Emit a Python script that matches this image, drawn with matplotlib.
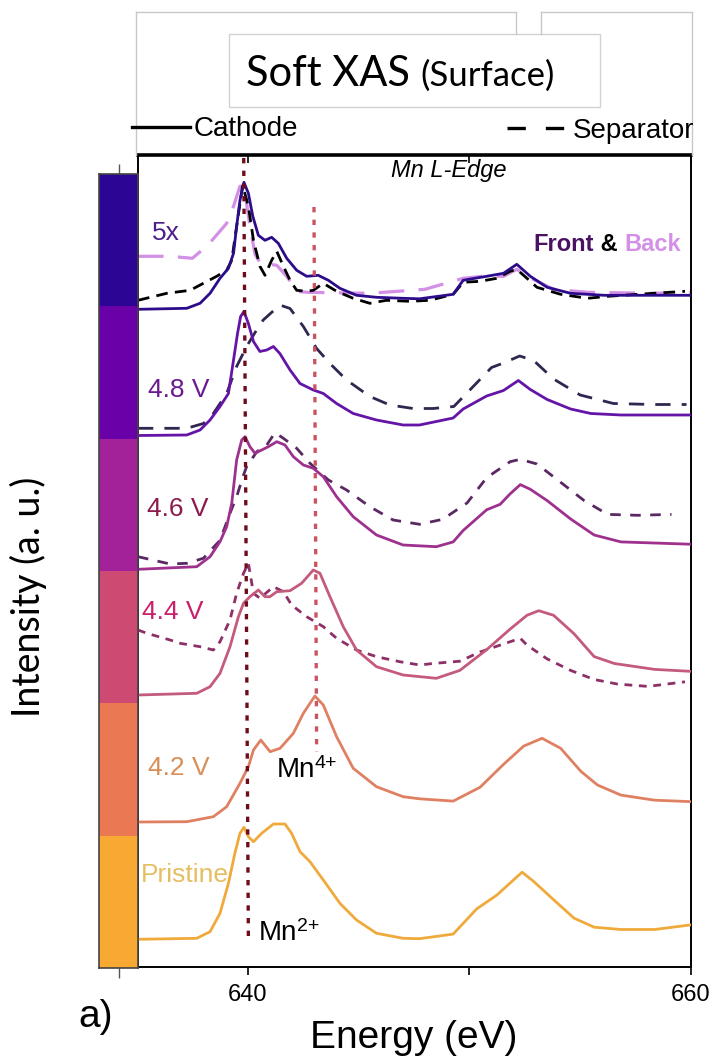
import matplotlib
matplotlib.use("Agg")
import matplotlib.pyplot as plt
from matplotlib.lines import Line2D
from matplotlib.patches import Rectangle

W, H = 712, 1063

# Mn L-edge soft XAS: energy (eV) and intensity above each trace's own baseline (a.u.)
E_pri = [635.05, 637.7, 638.3, 638.75, 639.13, 639.42, 639.65, 639.83, 640.03, 640.26, 640.63, 641.16,
         641.68, 641.98, 642.36, 642.81, 643.41, 644.16, 644.91, 645.81, 647.01, 647.75, 649.27, 650.33,
         651.24, 651.69, 652.38, 652.9, 653.8, 654.72, 655.63, 656.84, 658.36, 659.95]
I_pri = [0.0, 0.01, 0.076, 0.26, 0.56, 0.86, 1.06, 1.12, 1.026, 0.976, 1.06, 1.153,
         1.153, 1.06, 0.876, 0.776, 0.593, 0.36, 0.193, 0.06, 0.01, 0.006, 0.052, 0.304,
         0.442, 0.533, 0.671, 0.579, 0.396, 0.212, 0.121, 0.098, 0.098, 0.143]

E_42 = [635.05, 637.25, 638.45, 639.05, 639.65, 640.03, 640.26, 640.59, 641.01, 641.46, 642.06, 642.51,
        643.03, 643.41, 644.01, 644.76, 645.81, 647.01, 647.75, 649.27, 650.48, 651.54, 652.45, 653.28,
        654.12, 655.03, 655.78, 656.84, 658.36, 659.95]
I_42 = [0.0, 0.003, 0.053, 0.153, 0.387, 0.553, 0.72, 0.82, 0.703, 0.737, 0.887, 1.087,
        1.26, 1.17, 0.853, 0.537, 0.353, 0.253, 0.232, 0.209, 0.347, 0.576, 0.759, 0.837,
        0.737, 0.507, 0.37, 0.269, 0.218, 0.204]

E_44 = [635.05, 637.7, 638.3, 638.75, 639.2, 639.58, 639.81, 640.1, 640.48, 640.78, 641.0, 641.31,
        641.91, 642.43, 642.96, 643.26, 643.71, 644.31, 644.91, 645.81, 647.01, 648.51, 649.57, 650.78,
        651.84, 652.6, 653.13, 653.8, 654.72, 655.63, 656.54, 658.36, 659.95]
I_44 = [0.0, 0.017, 0.083, 0.217, 0.483, 0.783, 0.917, 0.983, 1.05, 0.983, 0.983, 1.033,
        1.043, 1.117, 1.25, 1.217, 0.983, 0.683, 0.45, 0.283, 0.20, 0.167, 0.246, 0.453,
        0.659, 0.797, 0.843, 0.797, 0.613, 0.384, 0.315, 0.256, 0.237]
E_44s = [635.05, 635.45, 636.5, 636.95, 637.85, 638.45, 638.75, 639.2, 639.5, 639.81, 640.03, 640.26,
         640.55, 641.16, 641.61, 641.98, 642.66, 643.41, 644.01, 644.91, 645.81, 646.86, 647.76, 648.36,
         649.57, 650.48, 651.39, 652.3, 652.6, 653.51, 654.57, 655.63, 656.69, 658.06, 659.73]
I_44s = [0.65, 0.617, 0.55, 0.517, 0.483, 0.45, 0.533, 0.75, 1.017, 1.217, 1.317, 1.017,
         0.967, 1.083, 1.033, 0.9, 0.783, 0.683, 0.567, 0.45, 0.383, 0.333, 0.30, 0.315,
         0.338, 0.43, 0.499, 0.567, 0.499, 0.361, 0.246, 0.155, 0.109, 0.086, 0.132]

E_46 = [635.05, 637.7, 638.3, 638.75, 639.05, 639.28, 639.5, 639.73, 639.88, 640.1, 640.33, 640.63,
        640.93, 641.31, 641.68, 642.06, 642.51, 642.96, 643.41, 644.01, 644.76, 645.81, 647.01, 648.51,
        649.27, 649.72, 650.78, 651.39, 651.84, 652.3, 652.75, 653.51, 654.57, 655.63, 656.84, 659.95]
I_46 = [0.0, 0.026, 0.126, 0.276, 0.426, 0.66, 1.093, 1.293, 1.326, 1.226, 1.16, 1.193,
        1.226, 1.276, 1.243, 1.126, 1.043, 1.01, 0.926, 0.726, 0.526, 0.343, 0.243, 0.226,
        0.274, 0.388, 0.595, 0.65, 0.755, 0.847, 0.80, 0.687, 0.503, 0.343, 0.274, 0.251]
E_46s = [635.05, 636.5, 637.25, 638.0, 638.75, 639.2, 639.5, 639.81, 639.95, 640.41, 640.86, 641.23,
         641.61, 642.21, 642.81, 643.64, 644.46, 645.51, 646.56, 647.76, 648.8, 649.9, 650.78, 651.84,
         652.3, 653.05, 654.12, 655.18, 656.24, 657.61, 659.12]
I_46s = [0.126, 0.053, 0.06, 0.11, 0.29, 0.56, 0.726, 0.943, 1.026, 1.176, 1.243, 1.366,
         1.31, 1.21, 1.06, 0.893, 0.793, 0.626, 0.493, 0.45, 0.50, 0.664, 0.916, 1.076,
         1.10, 1.053, 0.87, 0.687, 0.549, 0.54, 0.549]

E_48 = [635.05, 637.25, 637.85, 638.3, 638.75, 639.13, 639.36, 639.54, 639.68, 639.83, 640.03, 640.26,
        640.55, 640.86, 641.16, 641.45, 641.91, 642.36, 642.96, 643.41, 644.01, 644.76, 645.81, 647.01,
        647.75, 649.27, 649.72, 650.78, 651.54, 652.21, 652.75, 653.51, 654.57, 655.48, 656.84, 659.95]
I_48 = [0.0, 0.005, 0.055, 0.155, 0.29, 0.42, 0.755, 1.02, 1.19, 1.24, 1.12, 0.94,
        0.84, 0.855, 0.89, 0.82, 0.655, 0.52, 0.455, 0.42, 0.32, 0.22, 0.155, 0.105,
        0.105, 0.175, 0.265, 0.395, 0.45, 0.55, 0.46, 0.36, 0.265, 0.22, 0.205, 0.205]
E_48s = [635.05, 637.25, 638.0, 638.45, 639.05, 639.5, 639.95, 640.4, 640.7, 641.45, 641.91, 642.51,
         643.11, 643.71, 644.46, 645.51, 646.41, 647.46, 648.36, 649.3, 650.0, 651.0, 651.54, 652.27,
         652.9, 653.8, 655.0, 656.5, 658.3, 659.8]
I_48s = [0.072, 0.072, 0.12, 0.22, 0.42, 0.69, 0.89, 1.055, 1.155, 1.305, 1.27, 1.09,
         0.87, 0.72, 0.555, 0.39, 0.305, 0.27, 0.27, 0.29, 0.45, 0.68, 0.725, 0.795,
         0.75, 0.565, 0.405, 0.32, 0.31, 0.31]

E_5x = [635.05, 637.25, 637.85, 638.3, 638.75, 639.13, 639.36, 639.5, 639.65, 639.83, 640.03, 640.23,
        640.48, 640.78, 641.08, 641.38, 641.76, 642.21, 642.66, 643.18, 643.64, 644.16, 644.91, 645.81,
        647.01, 647.75, 649.27, 649.72, 650.78, 651.54, 652.14, 652.75, 653.51, 654.57, 656.09, 659.95]
I_5x = [0.0, 0.01, 0.06, 0.16, 0.31, 0.41, 0.56, 0.83, 1.09, 1.27, 1.16, 0.93,
        0.74, 0.69, 0.72, 0.66, 0.51, 0.39, 0.33, 0.34, 0.29, 0.21, 0.14, 0.12,
        0.11, 0.105, 0.15, 0.29, 0.33, 0.36, 0.45, 0.33, 0.22, 0.16, 0.14, 0.14]
E_5x_front = [635.05, 636.35, 637.4, 638.0, 638.6, 639.05, 639.28, 639.5, 639.77, 640.03, 640.26, 640.55,
              640.78, 641.08, 641.31, 641.61, 641.91, 642.21, 642.66, 642.96, 643.41, 644.01, 644.76, 645.51,
              646.26, 647.31, 648.21, 649.27, 649.72, 650.48, 651.24, 651.84, 652.14, 652.6, 653.05, 654.12,
              655.33, 656.24, 657.61, 659.73]
I_5x_front = [0.09, 0.16, 0.19, 0.26, 0.33, 0.39, 0.49, 0.83, 1.24, 1.03, 0.69, 0.43,
              0.34, 0.49, 0.58, 0.43, 0.29, 0.19, 0.18, 0.19, 0.26, 0.18, 0.11, 0.06,
              0.09, 0.08, 0.09, 0.15, 0.27, 0.28, 0.31, 0.38, 0.40, 0.31, 0.22, 0.15,
              0.11, 0.13, 0.15, 0.18]
E_5x_back = [635.05, 636.5, 637.5, 638.2, 639.05, 639.36, 639.65, 639.83, 640.1, 640.33, 640.6, 641.0,
             641.31, 641.76, 642.21, 642.66, 645.51, 648.0, 649.72, 650.6, 651.54, 652.14, 652.6, 653.8,
             655.33, 658.3, 659.95]
I_5x_back = [0.53, 0.53, 0.51, 0.64, 0.86, 1.03, 1.23, 1.24, 0.83, 0.55, 0.45, 0.45,
             0.44, 0.33, 0.18, 0.17, 0.16, 0.20, 0.31, 0.33, 0.33, 0.40, 0.33, 0.20,
             0.17, 0.16, 0.17]

labels = ["Pristine", "4.2 V", "4.4 V", "4.6 V", "4.8 V", "5x"]
offsets = [0.277, 1.45, 2.72, 3.977, 5.315, 6.577]
bar_colors = ["#f8a933", "#ea7852", "#cd4a72", "#a3229a", "#6900a8", "#2c0594"]
line_colors = ["#f0aa3c", "#e08062", "#c45a7c", "#9e308e", "#6414a6", "#2d0c8c"]
sep_colors = [None, None, "#8e3068", "#5a2862", "#302650", "black"]
label_colors = ["#e6be62", "#d88e56", "#c8206c", "#8c1a4c", "#6c1a92", "#4c1e8c"]
label_pos = [(635.2, 0.92), (635.5, 1.99), (635.25, 3.55), (635.45, 4.58), (635.5, 5.77), (635.7, 7.34)]

fig = plt.figure(figsize=(W / 100, H / 100), dpi=100)


def fbox(x0, y0, x1, y1):
    return [x0 / W, 1 - y1 / H, (x1 - x0) / W, (y1 - y0) / H]


ax = fig.add_axes(fbox(138, 155, 691, 967))
cax = fig.add_axes(fbox(99, 174, 138, 968))

cathode = [(E_pri, I_pri), (E_42, I_42), (E_44, I_44), (E_46, I_46), (E_48, I_48), (E_5x, I_5x)]
separator = [None, None, (E_44s, I_44s), (E_46s, I_46s), (E_48s, I_48s), (E_5x_front, I_5x_front)]
sep_dash = [None, None, (0, (2.8, 2.4)), (0, (3.8, 3.4)), (0, (5.5, 4)), (0, (4.2, 2.6))]

for k in range(6):
    off = offsets[k]
    if separator[k] is not None:
        e, i = separator[k]
        ax.plot(e, [v + off for v in i], color=sep_colors[k], lw=2.0, ls=sep_dash[k], zorder=3)
    if k == 5:
        ax.plot(E_5x_back, [v + off for v in I_5x_back], color="#d490e6", lw=2.3,
                ls=(0, (8, 4.5)), zorder=2)
    e, i = cathode[k]
    ax.plot(e, [v + off for v in i], color=line_colors[k], lw=2.0, zorder=4,
            solid_joinstyle="round")
    ax.text(label_pos[k][0], label_pos[k][1], labels[k], color=label_colors[k], fontsize=19,
            family="Liberation Sans", va="center", ha="left", zorder=6)

# guide lines for Mn2+ and Mn4+
ax.plot([639.82, 640.03], [8.09, 0.28], color="#6e0c1c", lw=2.4, ls=(0, (1.6, 2.2)), zorder=5)
ax.plot([642.99, 643.11], [7.60, 2.15], color="#cc5462", lw=2.4, ls=(0, (1.6, 2.2)), zorder=5)

t_mn4 = ax.text(641.3, 1.97, "Mn", fontsize=20, family="Liberation Sans", va="center", zorder=6)
ax.annotate("4+", xy=(1.0, 0.42), xycoords=t_mn4, fontsize=14, family="Liberation Sans",
            va="bottom", ha="left", zorder=6)
t_mn2 = ax.text(640.48, 0.34, "Mn", fontsize=20, family="Liberation Sans", va="center", zorder=6)
ax.annotate("2+", xy=(1.0, 0.42), xycoords=t_mn2, fontsize=14, family="Liberation Sans",
            va="bottom", ha="left", zorder=6)
ax.text(649.05, 7.96, "Mn L-Edge", fontsize=17, style="italic", family="Liberation Sans",
        ha="center", va="center")

t_back = ax.text(659.55, 7.22, "Back", color="#d490e6", fontsize=17, weight="bold",
                 family="Liberation Sans", va="center", ha="right")
t_amp = ax.annotate(" & ", xy=(0, 0.5), xycoords=t_back, fontsize=17, weight="bold",
                    family="Liberation Sans", va="center", ha="right")
ax.annotate("Front", xy=(0, 0.5), xycoords=t_amp, color="#4a1262", fontsize=17, weight="bold",
            family="Liberation Sans", va="center", ha="right")

ax.set_xlim(635.05, 660)
ax.set_ylim(0, 8.12)
ax.set_yticks([])
ax.set_xticks([640, 650, 660])
ax.set_xticklabels(["640", "", "660"])
ax.tick_params(axis="x", direction="out", length=6, width=1.2, labelsize=17, pad=6)
ax2 = ax.secondary_xaxis("top")
ax2.set_xticks([640, 650, 660])
ax2.set_xticklabels([])
ax2.tick_params(direction="in", length=6, width=1.2)
ax2.spines["top"].set_visible(False)
for lab in ax.get_xticklabels():
    lab.set_family("Liberation Sans")
ax.spines["top"].set_linewidth(2.6)
for s in ["bottom", "right", "left"]:
    ax.spines[s].set_linewidth(1.4)

# voltage colour bar
for k in range(6):
    cax.bar(0, 1, bottom=k, width=1, color=bar_colors[k], align="edge")
cax.set_xlim(0, 1)
cax.set_ylim(0, 6)
cax.set_yticks([])
cax.set_xticks([0.5])
cax.set_xticklabels([])
cax.tick_params(axis="x", top=True, bottom=True, direction="out", length=7, width=1, color="#555555")
for s in cax.spines.values():
    s.set_color("#444444")
    s.set_linewidth(1.2)

# header box with title and line-style key
gl = dict(color="#c8c8c8", lw=1.0, transform=fig.transFigure)
fig.add_artist(Line2D([136 / W, 516 / W], [1 - 11.5 / H] * 2, **gl))
fig.add_artist(Line2D([541 / W, 692 / W], [1 - 11.5 / H] * 2, **gl))
fig.add_artist(Line2D([516 / W] * 2, [1 - 11.5 / H, 1 - 34 / H], **gl))
fig.add_artist(Line2D([541 / W] * 2, [1 - 11.5 / H, 1 - 34 / H], **gl))
fig.add_artist(Line2D([136 / W] * 2, [1 - 11.5 / H, 1 - 155 / H], **gl))
fig.add_artist(Line2D([692 / W] * 2, [1 - 11.5 / H, 1 - 155 / H], **gl))
fig.add_artist(Rectangle((229 / W, 1 - 106.5 / H), (600 - 229) / W, (106.5 - 34) / H,
                         transform=fig.transFigure, fill=False, ec="#d2d2d2", lw=1.0))
ts = fig.text(246 / W, 1 - 86 / H, "Soft XAS ", fontsize=30, family="Lato", va="baseline")
fig.canvas.draw()
bts = ts.get_window_extent()
fig.text(bts.x1 / W, 1 - 86 / H, "(Surface)", fontsize=25, family="Lato", va="baseline")

fig.add_artist(Line2D([132 / W, 190 / W], [1 - 127 / H] * 2, color="black", lw=2.4,
                      transform=fig.transFigure))
fig.text(194 / W, 1 - 129 / H, "Cathode", fontsize=20, family="Liberation Sans", va="center")
fig.add_artist(Line2D([507 / W, 564 / W], [1 - 128 / H] * 2, color="black", lw=2.4,
                      ls=(0, (5.5, 6)), transform=fig.transFigure))
fig.text(573 / W, 1 - 131 / H, "Separator", fontsize=20, family="Liberation Sans", va="center")

fig.text(28 / W, 1 - 597 / H, "Intensity (a. u.)", fontsize=27, family="Lato", rotation=90,
         ha="center", va="center")
fig.text(414 / W, 1 - 1038 / H, "Energy (eV)", fontsize=28, family="Liberation Sans",
         ha="center", va="center")
fig.text(78 / W, 1 - 1017 / H, "a)", fontsize=28, family="Liberation Sans", ha="left", va="center")

fig.savefig("out.png", dpi=100)
